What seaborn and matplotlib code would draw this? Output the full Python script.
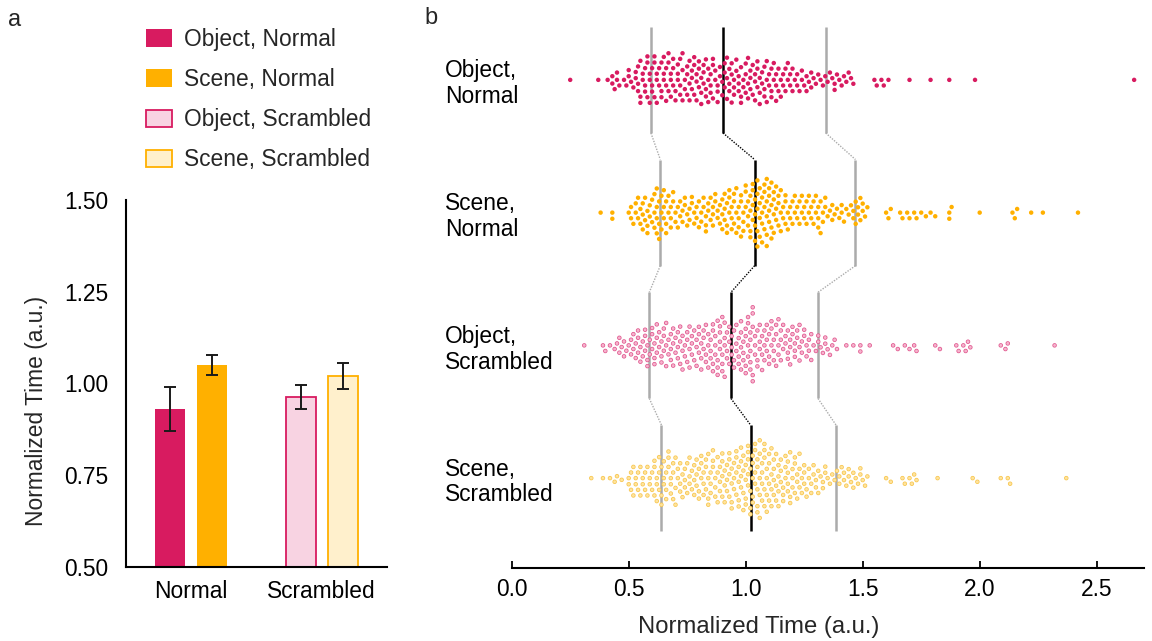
import numpy as np
import pandas as pd
import matplotlib
matplotlib.use("Agg")
import matplotlib.pyplot as plt
import seaborn as sns
from matplotlib.patches import Patch

sns.set_theme(style="white")
plt.rcParams['font.family'] = ['Liberation Sans', 'DejaVu Sans']

# ---------------- data: panel a ----------------
bar_groups = ["Normal", "Scrambled"]
bar_kinds = ["Object", "Scene"]
# order: Object-Normal, Scene-Normal, Object-Scrambled, Scene-Scrambled
bar_means = [0.930, 1.051, 0.964, 1.021]
bar_errs = [0.060, 0.027, 0.033, 0.036]
legend_labels = ["Object, Normal", "Scene, Normal", "Object, Scrambled", "Scene, Scrambled"]

# ---------------- data: panel b ----------------
swarm_labels = ["Object,\nNormal", "Scene,\nNormal", "Object,\nScrambled", "Scene,\nScrambled"]

# counts of observations on a 0.01 grid starting at *_start, plus isolated values
obj_normal_start = 0.37
obj_normal_counts = [1,0,0,0,1,0,2,1,2,1,
                     0,1,1,2,1,1,2,3,3,2,
                     3,3,3,3,3,3,2,3,3,3,
                     3,3,3,2,3,3,3,2,3,3,
                     3,3,3,3,3,3,3,3,3,3,
                     2,3,2,2,3,3,3,3,3,2,
                     3,3,2,3,3,3,2,3,3,3,
                     2,3,3,2,3,2,3,2,2,2,
                     2,2,2,2,1,2,1,2,1,2,
                     1,2,1,1,1,1,1,1,1,1,
                     1,2,1,1,1,1,1,1,1,1]
obj_normal_extra = [0.25, 1.55, 1.56, 1.58, 1.59, 1.61, 1.70, 1.79, 1.87, 1.98, 2.66]

scene_normal_start = 0.50
scene_normal_counts = [1,2,1,2,2,2,3,2,3,2,
                       2,3,4,3,3,3,3,2,3,2,
                       2,2,2,2,2,2,2,2,2,2,
                       2,2,2,3,2,2,3,2,2,2,
                       3,3,3,3,3,3,3,3,3,3,
                       3,3,4,4,4,5,4,4,4,5,
                       4,4,4,3,3,3,2,3,2,2,
                       2,2,2,2,2,2,2,2,2,2,
                       2,3,2,2,2,1,1,2,1,1,
                       1,2,1,1,1,1,2,2,2,2,
                       2,1,1]
scene_normal_extra = [0.38, 0.43, 0.43, 1.60, 1.61, 1.62, 1.66, 1.67, 1.69, 1.70, 1.72, 1.73,
                      1.75, 1.77, 1.79, 1.81, 1.87, 1.87, 1.88, 2.00, 2.14, 2.15, 2.16,
                      2.22, 2.27, 2.42]

obj_scr_start = 0.45
obj_scr_counts = [1,2,1,2,1,1,2,2,2,3,
                  2,2,3,3,2,3,3,3,2,3,
                  3,3,2,3,3,2,3,3,3,2,
                  3,3,3,2,3,3,3,3,3,3,
                  3,4,3,4,4,4,4,3,3,3,
                  3,3,3,4,3,4,4,5,5,3,
                  3,3,3,3,3,3,3,3,3,3,
                  3,2,2,3,3,2,3,2,3,2,
                  2,2,2,2,1,1,2,1,1,2,
                  1,1,1,1,1]
obj_scr_extra = [0.31, 0.39, 0.40, 0.42, 0.44, 1.43, 1.46, 1.49, 1.49, 1.53, 1.63, 1.65,
                 1.68, 1.70, 1.72, 1.73, 1.81, 1.83, 1.90, 1.91, 1.93, 1.94, 1.95, 1.96,
                 2.09, 2.11, 2.12, 2.32]

scene_scr_start = 0.50
scene_scr_counts = [2,2,2,2,2,2,2,2,2,2,
                    2,3,3,3,3,3,3,3,3,3,
                    3,2,3,2,3,2,3,2,3,3,
                    3,3,3,3,4,3,3,3,3,3,
                    4,3,3,4,4,3,4,4,4,4,
                    4,5,4,5,4,5,5,4,5,4,
                    4,4,4,3,4,3,3,3,4,3,
                    3,3,3,3,2,3,2,2,2,2,
                    2,2,1,2,2,1,1,1,1,1,
                    2,1,2,1,2,1,2,1,1,2,
                    1,1,1]
scene_scr_extra = [0.34, 0.39, 0.42, 0.44, 0.45, 0.47, 1.60, 1.62, 1.67, 1.68, 1.70, 1.71,
                   1.72, 1.73, 1.82, 1.97, 1.99, 2.09, 2.12, 2.13, 2.37]

# reference lines (lower, middle, upper)
line_low = [0.595, 0.635, 0.588, 0.640]
line_mid = [0.903, 1.038, 0.937, 1.021]
line_high = [1.342, 1.469, 1.309, 1.386]

# ---------------- styles ----------------
c_obj = "#D81B60"
c_scene = "#FFB000"
c_obj_light = "#F8D3E2"
c_scene_light = "#FFF0CC"
FS = 16.4


def expand(start, counts, extra):
    grid = np.round(start + 0.01 * np.arange(len(counts)), 2)
    vals = np.repeat(grid, counts)
    return np.sort(np.concatenate([vals, np.array(extra, dtype=float)]))


swarm_values = [
    expand(obj_normal_start, obj_normal_counts, obj_normal_extra),
    expand(scene_normal_start, scene_normal_counts, scene_normal_extra),
    expand(obj_scr_start, obj_scr_counts, obj_scr_extra),
    expand(scene_scr_start, scene_scr_counts, scene_scr_extra),
]

W, H = 1152, 641
fig = plt.figure(figsize=(W / 100, H / 100), dpi=100)

# ---------------- panel a ----------------
axa = fig.add_axes([126 / W, (H - 567) / H, 261 / W, 367 / H])
bar_df = pd.DataFrame({
    "condition": ["Normal", "Normal", "Scrambled", "Scrambled"],
    "stimulus": ["Object", "Scene", "Object", "Scene"],
    "mean": bar_means,
})
sns.barplot(data=bar_df, x="condition", y="mean", hue="stimulus", order=bar_groups,
            hue_order=bar_kinds, palette=[c_obj, c_scene], width=0.644, gap=0.285,
            errorbar=None, legend=False, saturation=1, ax=axa)
light = [c_obj_light, c_scene_light]
dark = [c_obj, c_scene]
bar_containers = list(axa.containers)
for k, cont in enumerate(bar_containers):
    for g, bar in enumerate(list(cont)):
        idx = g * 2 + k
        if g == 1:
            bar.set_facecolor(light[k])
            bar.set_edgecolor(dark[k])
            bar.set_linewidth(1.3)
        else:
            bar.set_linewidth(0)
        xc = bar.get_x() + bar.get_width() / 2
        axa.errorbar([xc], [bar_means[idx]], yerr=[bar_errs[idx]], fmt="none",
                     ecolor="#1a1a1a", elinewidth=1.4, capsize=4.5, capthick=1.4, zorder=5)

axa.set_xlim(-0.5, 1.5)
axa.set_ylim(0.5, 1.5)
axa.set_yticks([0.5, 0.75, 1.0, 1.25, 1.5])
axa.set_yticklabels(["0.50", "0.75", "1.00", "1.25", "1.50"])
axa.set_xlabel("")
axa.set_ylabel("Normalized Time (a.u.)", fontsize=FS)
axa.yaxis.set_label_coords(-0.30, 0.425)
for s in ["top", "right"]:
    axa.spines[s].set_visible(False)
for s in ["left", "bottom"]:
    axa.spines[s].set_color("black")
    axa.spines[s].set_linewidth(1.5)
axa.tick_params(axis="y", length=0, pad=13, labelsize=FS, colors="black")
axa.tick_params(axis="x", length=0, pad=9, labelsize=FS, colors="black")
axa.set_facecolor("none")

handles = [
    Patch(facecolor=c_obj, edgecolor=c_obj, linewidth=0),
    Patch(facecolor=c_scene, edgecolor=c_scene, linewidth=0),
    Patch(facecolor=c_obj_light, edgecolor=c_obj, linewidth=1.3),
    Patch(facecolor=c_scene_light, edgecolor=c_scene, linewidth=1.3),
]
fig.legend(handles, legend_labels, loc="upper left", bbox_to_anchor=(146 / W, 1 - 28 / H),
           frameon=False, fontsize=FS, handlelength=1.15, handleheight=0.8,
           handletextpad=0.5, labelspacing=0.75, borderpad=0, borderaxespad=0)

# ---------------- panel b ----------------
axb = fig.add_axes([511.7 / W, (H - 568) / H, 631.8 / W, 548 / H])
# each layer: (fill colour, marker diameter pt); the visible marker plus a
# transparent spacing ring always sum to FOOT so stacked layers share positions
FOOT = 4.2
layers = [
    [(c_obj, 3.2)],
    [(c_scene, 3.2)],
    [("#E0578E", 3.2), ("#F6B3CD", 2.1)],
    [("#F7C64F", 3.2), ("#FFE39C", 2.1)],
]
for lab, vals, lay in zip(swarm_labels, swarm_values, layers):
    for col, sz in lay:
        sns.swarmplot(x=vals, y=[lab] * len(vals), order=swarm_labels, orient="h",
                      ax=axb, zorder=3, warn_thresh=1.0, color=col, size=sz,
                      edgecolor="none", linewidth=FOOT - sz)

grey = "#ABABAB"
half = 0.4
for i in range(4):
    for arr, col in [(line_low, grey), (line_mid, "black"), (line_high, grey)]:
        axb.plot([arr[i], arr[i]], [i - half, i + half], color=col, lw=1.8,
                 solid_capstyle="butt", zorder=2)
        if i < 3:
            axb.plot([arr[i], arr[i + 1]], [i + half, i + 1 - half], color=col, lw=1.0,
                     ls=(0, (1, 1)), zorder=2)

axb.set_xlim(0, 2.7)
axb.set_ylim(3.677, -0.451)
axb.set_xticks([0, 0.5, 1.0, 1.5, 2.0, 2.5])
axb.set_xticklabels(["0.0", "0.5", "1.0", "1.5", "2.0", "2.5"])
axb.set_yticks(range(4))
axb.set_yticklabels(swarm_labels, ha="left", linespacing=1.15)
axb.set_xlabel("Normalized Time (a.u.)", fontsize=17.2)
axb.xaxis.set_label_coords(0.391, -0.088)
axb.set_ylabel("")
for s in ["top", "right", "left"]:
    axb.spines[s].set_visible(False)
axb.spines["bottom"].set_color("black")
axb.spines["bottom"].set_linewidth(1.5)
axb.tick_params(axis="x", direction="in", length=5, width=1.3, pad=7, labelsize=FS,
                colors="black", bottom=True)
axb.tick_params(axis="y", length=0, pad=48, labelsize=FS, colors="black")
axb.set_facecolor("none")

fig.text(15 / W, 1 - 20 / H, "a", fontsize=17, ha="center", va="center")
fig.text(431 / W, 1 - 18 / H, "b", fontsize=17, ha="center", va="center")

fig.savefig("out.png", dpi=100)
